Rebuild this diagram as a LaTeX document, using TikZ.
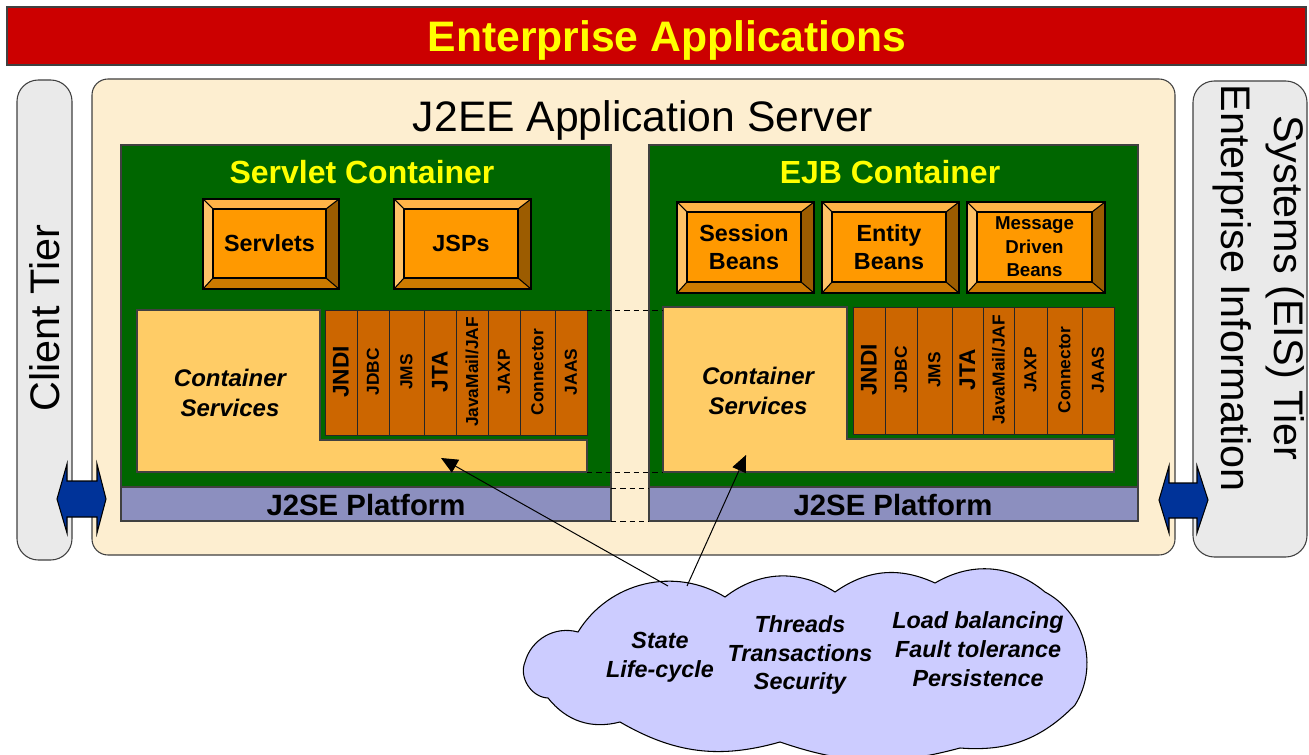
\documentclass[tikz,border=0pt]{standalone}
\usepackage{fontspec}
\setmainfont{Liberation Sans}
\usetikzlibrary{arrows.meta}

\definecolor{barred}{HTML}{CC0000}
\definecolor{ttlyellow}{HTML}{FFFF00}
\definecolor{srvcream}{HTML}{FDEED0}
\definecolor{tiergray}{HTML}{EAEAEA}
\definecolor{contgreen}{HTML}{006600}
\definecolor{platblue}{HTML}{8C8FBF}
\definecolor{servlight}{HTML}{FFCC66}
\definecolor{apibrown}{HTML}{CC6600}
\definecolor{btnface}{HTML}{FF9900}
\definecolor{bevL}{HTML}{FFC266}
\definecolor{bevT}{HTML}{FFB347}
\definecolor{bevR}{HTML}{9C5C00}
\definecolor{bevB}{HTML}{CC7A00}
\definecolor{arrowblue}{HTML}{003399}
\definecolor{cloudlav}{HTML}{CCCCFF}

\newcommand\fsz[2]{\fontsize{#1}{#2}\selectfont}
\newcommand\apibig{\bfseries\fsz{17}{20}}
\newcommand\apismall{\bfseries\fsz{13}{16}}

% bevelled push button: [node options], name, x1, y1, x2, y2, text
\newcommand\bevbtn[7][]{%
  \fill[bevL] (#3,#4) -- ({#3+10},{#4+10}) -- ({#3+10},{#6-11}) -- (#3,#6) -- cycle;
  \fill[bevT] (#3,#4) -- (#5,#4) -- ({#5-13},{#4+10}) -- ({#3+10},{#4+10}) -- cycle;
  \fill[bevR] (#5,#4) -- (#5,#6) -- ({#5-13},{#6-11}) -- ({#5-13},{#4+10}) -- cycle;
  \fill[bevB] (#3,#6) -- (#5,#6) -- ({#5-13},{#6-11}) -- ({#3+10},{#6-11}) -- cycle;
  \draw[btnline] (#3,#4) -- ({#3+10},{#4+10}) (#5,#4) -- ({#5-13},{#4+10})
                 (#5,#6) -- ({#5-13},{#6-11}) (#3,#6) -- ({#3+10},{#6-11});
  \draw[btnline, fill=btnface] ({#3+10},{#4+10}) rectangle ({#5-13},{#6-11});
  \draw[btnline] (#3,#4) rectangle (#5,#6);
  \node[btntext, #1] (#2) at ({(#3+#5)/2-1.5},{(#4+#6)/2-0.5}) {#7};
}

\tikzset{
  outl/.style={draw=black!75, line width=0.8pt},
  btnline/.style={draw=black, line width=0.8pt},
  title/.style={font=\bfseries\fsz{32}{38}, text=ttlyellow},
  tiertxt/.style={font=\fsz{31}{40}, align=center},
  srvtxt/.style={font=\fsz{32}{38}},
  ctitle/.style={font=\bfseries\fsz{24}{28}, text=ttlyellow},
  j2setxt/.style={font=\bfseries\fsz{22}{26}},
  btntext/.style={font=\bfseries\fsz{17.5}{21}, align=center},
  cserv/.style={font=\bfseries\itshape\fsz{18}{22}, align=center},
  apistrip/.style={draw=black!85, line width=0.7pt, fill=apibrown},
  apitxt/.style={rotate=90, inner sep=0pt},
  gap/.style={draw=black, line width=0.7pt, dash pattern=on 4pt off 3pt},
  cloudtxt/.style={font=\bfseries\itshape\fsz{17.5}{21.5}, align=center},
  pointer/.style={draw=black, line width=0.75pt, -{Triangle[length=12.5pt,width=11pt]}},
  blockarrow/.style={draw=black, line width=0.8pt, fill=arrowblue},
}

\begin{document}
\begin{tikzpicture}[x=0.75pt,y=-0.75pt]
\useasboundingbox (0,0) rectangle (1309,755);

% banner
\draw[outl, fill=barred] (7,7) rectangle (1306,65);
\node[title] (banner) at (667,40) {Enterprise Applications};

% side tiers
\draw[outl, fill=tiergray, rounded corners=16pt] (17,80) rectangle (72,560);
\node[tiertxt, rotate=90] (client) at (45,318) {Client Tier};
\draw[outl, fill=tiergray, rounded corners=16pt] (1193,81) rectangle (1307,557);
\node[tiertxt, rotate=-90] (eis) at (1259,288) {Systems (EIS) Tier\\Enterprise Information};

% application server
\draw[outl, fill=srvcream, rounded corners=12pt] (92,79) rectangle (1175,555);
\node[srvtxt] (server) at (643,120) {J2EE Application Server};

% containers
\draw[outl, fill=contgreen] (121,145) rectangle (611,487);
\draw[outl, fill=contgreen] (649,145) rectangle (1138,487);
\node[ctitle] (servletc) at (362,172) {Servlet Container};
\node[ctitle] (ejbc) at (890,172) {EJB Container};

% J2SE platform bars
\draw[outl, fill=platblue] (121,487) rectangle (611,521);
\draw[outl, fill=platblue] (649,487) rectangle (1138,521);
\node[j2setxt] (j2seL) at (366,505) {J2SE Platform};
\node[j2setxt] (j2seR) at (893,505) {J2SE Platform};

% components
\bevbtn{servlets}{203}{199}{339}{289}{Servlets}
\bevbtn{jsps}{394}{199}{531}{289}{JSPs}
\bevbtn{session}{677}{202}{814}{293}{Session\\Beans}
\bevbtn{entity}{822}{202}{959}{293}{Entity\\Beans}
\bevbtn[font=\bfseries\fsz{14}{17.5}]{mdb}{967}{202}{1105}{293}{Message\\Driven\\Beans}

% container services
\draw[outl, fill=servlight] (137,310) -- (320,310) -- (320,440) -- (587,440)
   -- (587,472) -- (137,472) -- cycle;
\draw[outl, fill=servlight] (663,307) -- (847,307) -- (847,439) -- (1114,439)
   -- (1114,472) -- (663,472) -- cycle;
\node[cserv] (csL) at (230,393) {Container\\Services};
\node[cserv] (csR) at (758,391) {Container\\Services};

% service APIs
\foreach \a/\b/\t/\f [count=\i] in {325/357/JNDI/\apibig, 357/389/JDBC/\apismall,
    389/424/JMS/\apismall, 424/456/JTA/\apibig, 456/488/JavaMail\slash JAF/\apismall,
    488/520/JAXP/\apismall, 520/555/Connector/\apismall, 555/587/JAAS/\apismall} {
  \draw[apistrip] (\a,310) rectangle (\b,435);
  \node[apitxt, font=\f] (apiL\i) at ({(\a+\b)/2},372) {\t};
}
\foreach \a/\b/\t/\f [count=\i] in {853/885/JNDI/\apibig, 885/917/JDBC/\apismall,
    917/952/JMS/\apismall, 952/983/JTA/\apibig, 983/1014/JavaMail\slash JAF/\apismall,
    1014/1047/JAXP/\apismall, 1047/1082/Connector/\apismall, 1082/1114/JAAS/\apismall} {
  \draw[apistrip] (\a,307) rectangle (\b,434);
  \node[apitxt, font=\f] (apiR\i) at ({(\a+\b)/2},370) {\t};
}

% dashed continuation between the containers
\coordinate (gTL) at (587,310);  \coordinate (gTR) at (663,310);
\coordinate (gBL) at (587,472);  \coordinate (gBR) at (663,472);
\coordinate (pTL) at (611,488);  \coordinate (pTR) at (649,488);
\coordinate (pBL) at (611,521);  \coordinate (pBR) at (649,521);
\draw[gap] (gTL) -- (gTR);
\draw[gap] (gBL) -- (gBR);
\draw[gap] (pTL) -- (pTR);
\draw[gap] (pBL) -- (pBR);

% cloud of services
\draw[line width=0.8pt, fill=cloudlav]
  (525,662) to[bend left=45] (578,632)
  to[bend left=45] (725,597)
  to[bend left=35] (835,592)
  to[bend left=30] (935,583)
  to[bend left=35] (1045,592)
  to[bend left=47] (1075,705)
  to[bend left=25] (960,748)
  to[bend left=17] (780,742)
  to[bend left=23] (620,722)
  to[bend left=33] (548,698)
  to[bend left=55] (525,662) -- cycle;
\node[cloudtxt] (cl1) at (660,657) {State\\Life-cycle};
\node[cloudtxt] (cl2) at (800,655) {Threads\\Transactions\\Security};
\node[cloudtxt] (cl3) at (978,649) {Load balancing\\Fault tolerance\\Persistence};

\coordinate (cA) at (668,586);
\coordinate (cB) at (687,586);
\coordinate (tipL) at (441,458);
\coordinate (tipR) at (746,455);
\draw[pointer] (cA) -- (tipL);
\draw[pointer] (cB) -- (tipR);

% tier connections
\draw[blockarrow] (57,499) -- (67,464) -- (67,481) -- (97,481) -- (97,464) -- (106,499)
  -- (97,533) -- (97,517) -- (67,517) -- (67,533) -- cycle;
\draw[blockarrow] (1159,500) -- (1169,466) -- (1169,483) -- (1197,483) -- (1197,466)
  -- (1208,500) -- (1197,533) -- (1197,518) -- (1169,518) -- (1169,533) -- cycle;
\end{tikzpicture}
\end{document}
